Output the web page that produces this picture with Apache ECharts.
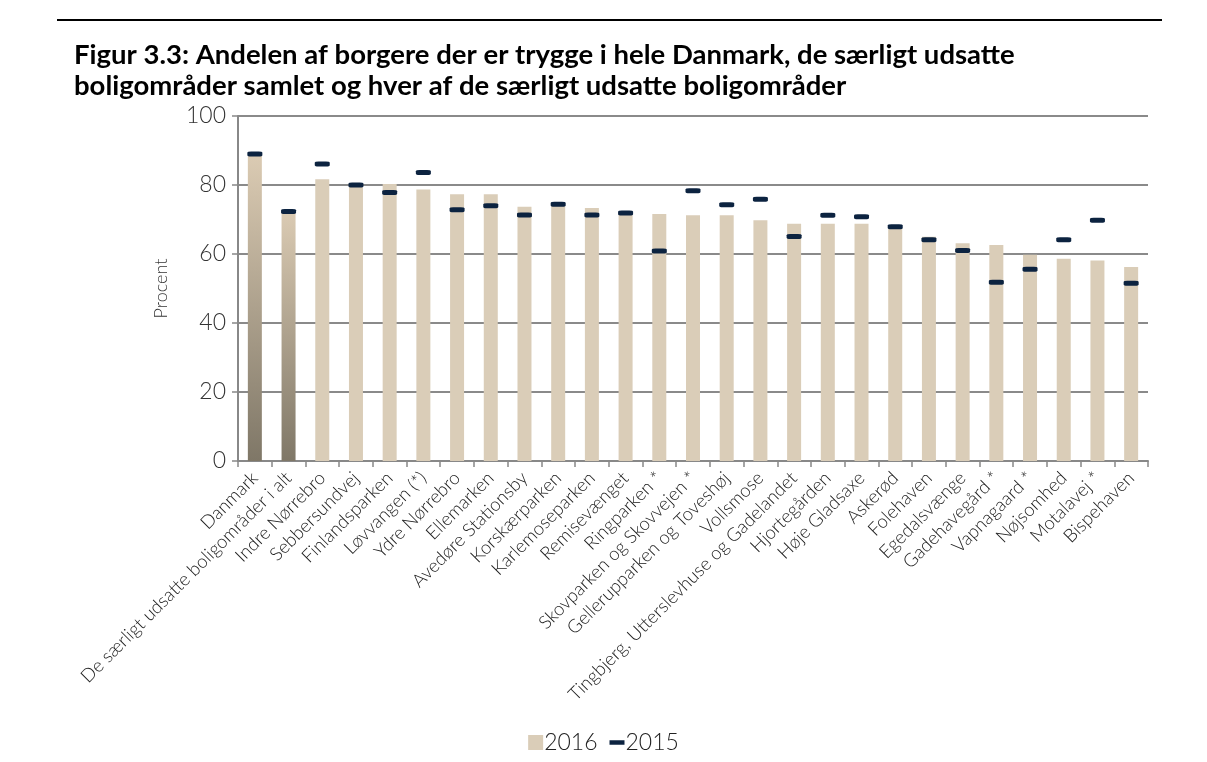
<!DOCTYPE html>
<html>
<head>
<meta charset="utf-8">
<script src="https://cdn.jsdelivr.net/npm/echarts@6/dist/echarts.min.js"></script>
<style>
html,body{margin:0;padding:0;background:#fff;}
#c{width:1207px;height:762px;}
</style>
</head>
<body>
<div id="c"></div>
<script>
var categories = [
  'Danmark',
  'De særligt udsatte boligområder i alt',
  'Indre Nørrebro',
  'Sebbersundvej',
  'Finlandsparken',
  'Løvvangen (*)',
  'Ydre Nørrebro',
  'Ellemarken',
  'Avedøre Stationsby',
  'Korskærparken',
  'Karlemoseparken',
  'Remisevænget',
  'Ringparken *',
  'Skovparken og Skovvejen *',
  'Gellerupparken og Toveshøj',
  'Vollsmose',
  'Tingbjerg, Utterslevhuse og Gadelandet',
  'Hjortegården',
  'Høje Gladsaxe',
  'Askerød',
  'Folehaven',
  'Egedalsvænge',
  'Gadehavegård *',
  'Vapnagaard *',
  'Nøjsomhed',
  'Motalavej *',
  'Bispehaven'
];
var values2016 = [88.6, 72.5, 81.7, 80.4, 80.3, 78.7, 77.3, 77.3, 73.7, 74.0, 73.3, 72.0, 71.6, 71.2, 71.2, 69.8, 68.8, 68.8, 68.8, 67.7, 65.0, 63.1, 62.6, 59.8, 58.6, 58.1, 56.2];
var values2015 = [89.0, 72.3, 86.1, 80.0, 77.8, 83.6, 72.8, 74.0, 71.3, 74.4, 71.3, 71.9, 60.9, 78.3, 74.3, 75.9, 65.1, 71.2, 70.8, 67.9, 64.1, 61.0, 51.8, 55.6, 64.1, 69.8, 51.5];
var yTicks = [0, 20, 40, 60, 80, 100];
var titleLines = [
  'Figur 3.3: Andelen af borgere der er trygge i hele Danmark, de særligt udsatte',
  'boligområder samlet og hver af de særligt udsatte boligområder'
];

var barColor = '#dacdb8';
var gradColor = new echarts.graphic.LinearGradient(0, 0, 0, 1, [
  {offset: 0, color: '#dbcbb3'},
  {offset: 1, color: '#7f7767'}
]);
var barData = values2016.map(function (v, i) {
  if (i < 2) return {value: v, itemStyle: {color: gradColor}};
  return v;
});

var chart = echarts.init(document.getElementById('c'));
chart.setOption({
  backgroundColor: '#fff',
  animation: false,
  title: {
    text: titleLines.join('\n'),
    left: 69,
    top: 35,
    textStyle: {
      fontFamily: 'Lato, sans-serif',
      fontWeight: 'bold',
      fontSize: 27.5,
      lineHeight: 31,
      color: '#000'
    }
  },
  graphic: [{
    type: 'line',
    shape: {x1: 57, y1: 20, x2: 1162, y2: 20},
    style: {stroke: '#000', lineWidth: 2}
  }],
  legend: {
    bottom: 3,
    left: 'center',
    itemWidth: 15,
    itemHeight: 15,
    itemGap: 12,
    textStyle: {fontFamily: 'Lato, sans-serif', fontWeight: 300, fontSize: 23, color: '#222', padding: [0, 0, 0, -4]},
    data: [
      {name: '2016', icon: 'rect'},
      {name: '2015', icon: 'path://M0,0 H20 V6 H0 Z'}
    ]
  },
  grid: {left: 238, right: 59, top: 116, bottom: 301, containLabel: false},
  xAxis: {
    type: 'category',
    data: categories,
    axisLine: {lineStyle: {color: '#888', width: 2}},
    axisTick: {show: true, alignWithLabel: false, length: 6, lineStyle: {color: '#888', width: 1.5}},
    axisLabel: {
      rotate: 45,
      interval: 0,
      fontFamily: 'Lato, sans-serif',
      fontWeight: 300,
      fontSize: 18.5,
      color: '#222',
      margin: 14
    }
  },
  yAxis: {
    type: 'value',
    min: 0,
    max: 100,
    interval: 20,
    name: 'Procent',
    nameLocation: 'middle',
    nameGap: 68,
    nameRotate: 90,
    nameTextStyle: {fontFamily: 'Lato, sans-serif', fontWeight: 300, fontSize: 18, color: '#333'},
    axisLine: {show: true, lineStyle: {color: '#888', width: 2}},
    axisTick: {show: true, length: 6, lineStyle: {color: '#888', width: 1.5}},
    axisLabel: {
      fontFamily: 'Lato, sans-serif',
      fontWeight: 300,
      fontSize: 23,
      color: '#333',
      margin: 12,
      customValues: yTicks
    },
    splitLine: {lineStyle: {color: '#8a8a8a', width: 2}}
  },
  series: [
    {
      name: '2016',
      type: 'bar',
      data: barData,
      barWidth: 14,
      itemStyle: {color: barColor},
      z: 2
    },
    {
      name: '2015',
      type: 'scatter',
      data: values2015,
      symbol: 'roundRect',
      symbolSize: [15, 5],
      itemStyle: {color: '#0c2340', opacity: 1},
      z: 3
    }
  ]
});
</script>
</body>
</html>
